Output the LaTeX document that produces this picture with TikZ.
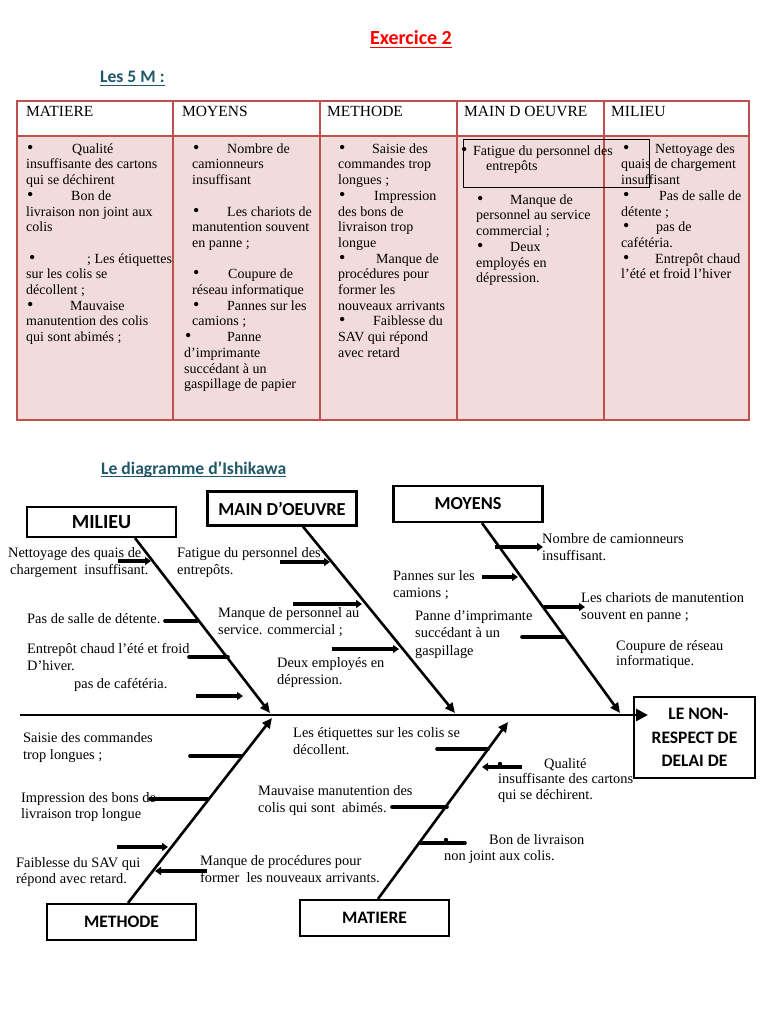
\documentclass[tikz,border=0pt]{standalone}
\usepackage{fontspec}
\setmainfont{Liberation Serif}
\newfontfamily\calibri{Carlito}
\usetikzlibrary{arrows.meta}
\definecolor{tabred}{HTML}{C0504D}
\definecolor{tabpink}{HTML}{F2DBDB}
\definecolor{headblue}{HTML}{215868}
\newcommand{\bigdot}{{\fontsize{18}{15.7}\selectfont\textbullet}}
\newcommand{\blt}[2]{\hspace*{#1pt}\makebox[#2pt][l]{\bigdot}}
\newcommand{\fl}{\rule{0pt}{12pt}} % fixed first-line height
\tikzset{
    tabtext/.style={anchor=north west, yshift=12pt, inner sep=0, align=left,
        font=\fontsize{14}{15.7}\selectfont},
    tabhead/.style={anchor=base west, inner sep=0,
        font=\fontsize{15.5}{18}\selectfont},
    fishtext/.style={anchor=north west, yshift=12pt, inner sep=0, align=left,
        font=\fontsize{14.4}{17.5}\selectfont},
    heading/.style={anchor=base west, inner sep=0, text=headblue,
        font=\calibri\bfseries\fontsize{17.6}{21}\selectfont},
    catbox/.style={draw, line width=2.2pt, inner sep=0, minimum width=149pt,
        minimum height=34pt, font=\calibri\bfseries\fontsize{18.3}{22}\selectfont},
    bone/.style={line width=2.6pt, -{Triangle[length=10pt, width=9pt]}},
    stub/.style={line width=3.6pt, line cap=round},
    stubarrow/.style={line width=3.6pt, -{Triangle[length=6pt, width=8pt]}},
}

\begin{document}
\begin{tikzpicture}[x=1pt, y=-1pt]
    \useasboundingbox (0, 0) rectangle (768, 1024);
    \fill[white] (0, 0) rectangle (768, 1024);

    % Titles
    \node[anchor=base, inner sep=0, text=red,
        font=\calibri\bfseries\fontsize{20}{24}\selectfont] (titre) at (411, 45) {Exercice 2};
    \draw[red, line width=1.4pt] ([yshift=-2.5pt]titre.base west) -- ([yshift=-2.5pt]titre.base east);
    \node[heading] (cinqm) at (100, 83) {Les 5 M :\hspace{3pt}};
    \draw[headblue, line width=1.2pt] ([yshift=-2.5pt]cinqm.base west) -- ([yshift=-2.5pt]cinqm.base east);

    % Table of the 5 M
    \fill[tabpink] (17, 136) rectangle (749, 420);
    \draw[tabred, line width=1.4pt] (17, 101) rectangle (749, 420);
    \foreach \x in {173, 320, 457, 604}
        \draw[tabred, line width=1.4pt] (\x, 101) -- (\x, 420);
    \draw[tabred, line width=2.6pt] (17, 136) -- (749, 136); % header rule

    \node[tabhead] (hmat) at (26, 117) {MATIERE};
    \node[tabhead] (hmoy) at (182, 117) {MOYENS};
    \node[tabhead] (hmet) at (327, 117) {METHODE};
    \node[tabhead] (hmain) at (464, 117) {MAIN D OEUVRE};
    \node[tabhead] (hmil) at (611, 117) {MILIEU};

    \node[tabtext] (cmat) at (26, 153) {\fl\blt{1}{45}Qualité\\
        insuffisante des cartons\\ qui se déchirent\\
        \blt{1}{44}Bon de\\ livraison non joint aux\\ colis\\ \mbox{}\\
        \blt{3}{58}; Les étiquettes\\ sur les colis se\\ décollent ;\\
        \blt{1}{43}Mauvaise\\ manutention des colis\\ qui sont abimés ;};
    \node[tabtext] (cmoy) at (192, 153) {\fl\blt{1}{34}Nombre de\\
        camionneurs\\ insuffisant\\ \mbox{}\\
        \blt{1}{34}Les chariots de\\ manutention souvent\\ en panne ;\\ \mbox{}\\
        \blt{1}{35}Coupure de\\ réseau informatique\\
        \blt{1}{34}Pannes sur les\\ camions ;\\
        \blt{-7}{42}Panne\\ \hspace*{-8pt}d’imprimante\\
        \hspace*{-8pt}succédant à un\\ \hspace*{-8pt}gaspillage de papier};
    \node[tabtext] (cmet) at (338, 153) {\fl\blt{1}{33}Saisie des\\
        commandes trop\\ longues ;\\
        \blt{1}{35}Impression\\ des bons de\\ livraison trop\\ longue\\
        \blt{1}{37}Manque de\\ procédures pour\\ former les\\ nouveaux arrivants\\
        \blt{1}{34}Faiblesse du\\ SAV qui répond\\ avec retard};
    \draw[line width=0.9pt] (463, 139) rectangle (649, 187); % boxed first item
    \node[tabtext] (cmain) at (461, 155) {\fl\makebox[12pt][l]{\bigdot}Fatigue du personnel des\\
        \hspace*{25pt}entrepôts};
    \node[tabtext] (cmainb) at (476, 204) {\fl\blt{1}{33}Manque de\\
        personnel au service\\ commercial ;\\
        \blt{1}{33}Deux\\ employés en\\ dépression.};
    \node[tabtext] (cmil) at (621, 153) {\fl\blt{2}{32}Nettoyage des\\
        quais de chargement\\ insuffisant\\
        \blt{2}{36}Pas de salle de\\ détente ;\\
        \blt{2}{33}pas de\\ cafétéria.\\
        \blt{2}{32}Entrepôt chaud\\ l’été et froid l’hiver};

    % Ishikawa diagram
    \node[heading] (ishi) at (101, 474) {Le diagramme d’Ishikawa\hspace{8pt}};
    \draw[headblue, line width=1.2pt] ([yshift=-2.5pt]ishi.base west) -- ([yshift=-2.5pt]ishi.base east);

    \node[catbox, font=\calibri\bfseries\fontsize{20}{24}\selectfont,
        minimum height=30pt] (milieu) at (101.5, 522) {MILIEU};
    \node[catbox] (main) at (282, 508.5) {MAIN D’OEUVRE};
    \node[catbox, minimum height=36pt] (moyens) at (468, 504) {MOYENS};
    \node[catbox, font=\calibri\bfseries\fontsize{17.5}{21}\selectfont,
        minimum height=36pt] (methode) at (121.5, 922) {METHODE};
    \node[catbox, font=\calibri\bfseries\fontsize{17.5}{21}\selectfont,
        minimum height=36pt] (matiere) at (374.5, 918) {MATIERE};
    \node[catbox, minimum width=121pt, minimum height=81pt, align=center,
        font=\calibri\bfseries\fontsize{17.5}{23.5}\selectfont] (effet) at (694.5, 737.5)
        {\hspace*{8pt}LE NON-\\RESPECT DE\\DELAI DE};

    \coordinate (queue) at (20, 715); % spine
    \coordinate (tete) at (648, 715);
    \draw[line width=2.8pt, -{Triangle[length=12pt, width=12pt]}] (queue) -- (tete);

    \coordinate (jmil) at (270, 713);
    \coordinate (jmain) at (455, 713);
    \coordinate (jmoy) at (620, 713);
    \coordinate (jmet) at (272, 718);
    \coordinate (jmat) at (508, 722);
    \draw[bone] ([xshift=33.5pt]milieu.south) -- (jmil);
    \draw[bone] ([xshift=21pt]main.south) -- (jmain);
    \draw[bone] ([xshift=14pt]moyens.south) -- (jmoy);
    \draw[bone] ([xshift=6.5pt]methode.north) -- (jmet);
    \draw[bone] ([xshift=3.5pt]matiere.north) -- (jmat);

    \foreach \xa/\xb/\yy in {118/151/561, 196/243/696, 280/330/562, 293/362/604,
        332/399/649, 495/543/547, 482/518/577, 543/585/607, 117/168/847,
        207/155/871, 522/482/767}
        \draw[stubarrow] (\xa, \yy) -- (\xb, \yy); % arrowed stubs
    \foreach \xa/\xb/\yy in {165/197/621, 189/228/657, 522/563/637, 190/241/756,
        150/208/799, 437/488/749, 392/447/807, 420/465/843}
        \draw[stub] (\xa, \yy) -- (\xb, \yy); % plain stubs
    \fill (500, 764) circle (2.2pt);
    \fill (446, 840) circle (2.2pt);

    \node[fishtext] (nett) at (8, 557) {\fl Nettoyage des quais de\\
        \hspace*{2pt}chargement\ \ insuffisant.};
    \node[fishtext] (fatig) at (177, 557) {\fl Fatigue du personnel des\\entrepôts.};
    \node[fishtext] (salle) at (27, 623) {\fl Pas de salle de détente.};
    \node[fishtext] (manqp) at (218, 617) {\fl Manque de personnel au\\service. commercial ;};
    \node[fishtext] (chaud) at (27, 653) {\fl Entrepôt chaud l’été et froid\\D’hiver.};
    \node[fishtext] (cafe) at (74, 688) {\fl pas de cafétéria.};
    \node[fishtext] (deux) at (277, 667) {\fl Deux employés en\\dépression.};
    \node[fishtext] (nomb) at (542, 543) {\fl Nombre de camionneurs\\insuffisant.};
    \node[fishtext] (pann) at (393, 580) {\fl Pannes sur les\\camions ;};
    \node[fishtext] (chari) at (581, 602) {\fl Les chariots de manutention\\souvent en panne ;};
    \node[fishtext] (impr) at (415, 620) {\fl Panne d’imprimante\\succédant à un\\gaspillage};
    \node[fishtext, font=\fontsize{14.4}{15.5}\selectfont] (coup) at (616, 650)
        {\fl Coupure de réseau\\informatique.};
    \node[fishtext] (sais) at (23, 742) {\fl Saisie des commandes\\trop longues ;};
    \node[fishtext, font=\fontsize{14.4}{16.5}\selectfont] (bons) at (21, 802)
        {\fl Impression des bons de\\livraison trop longue};
    \node[fishtext, font=\fontsize{14.4}{16.5}\selectfont] (sav) at (16, 867)
        {\fl Faiblesse du SAV qui\\répond avec retard.};
    \node[fishtext] (proc) at (200, 865) {\fl Manque de procédures pour\\
        former\ \ les nouveaux arrivants.};
    \node[fishtext] (etiq) at (293, 737) {\fl Les étiquettes sur les colis se\\décollent.};
    \node[fishtext] (mauv) at (258, 795) {\fl Mauvaise manutention des\\
        colis qui sont\ \ abimés.};
    \node[fishtext, font=\fontsize{14.4}{15.5}\selectfont] (qual) at (498, 768)
        {\fl\hspace*{46pt}Qualité\\insuffisante des cartons\\qui se déchirent.};
    \node[fishtext, font=\fontsize{14.4}{16}\selectfont] (bon) at (444, 844)
        {\fl\hspace*{45pt}Bon de livraison\\non joint aux colis.};
\end{tikzpicture}
\end{document}
